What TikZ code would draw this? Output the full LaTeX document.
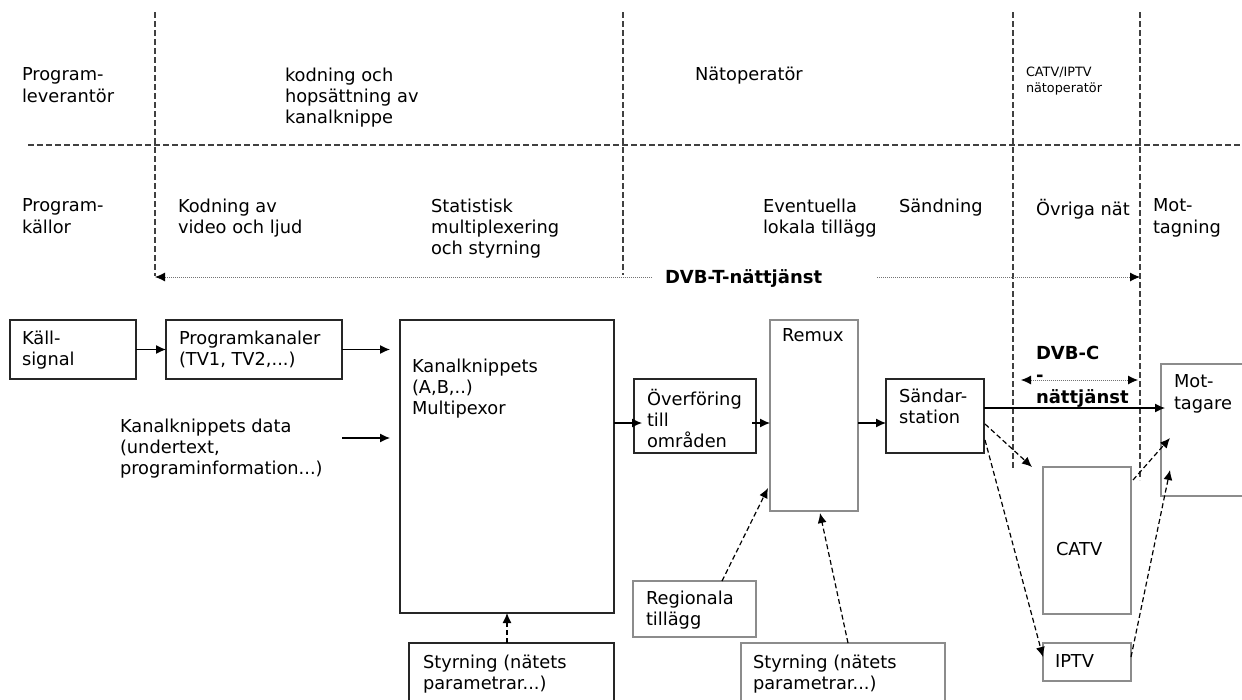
\documentclass[tikz,border=0pt]{standalone}
\usepackage{fontspec}
\setmainfont{DejaVu Sans}
\usetikzlibrary{arrows.meta,calc}
\tikzset{blt/.tip={Latex[length=10pt,width=9pt,color=black]}}
\begin{document}
\begin{tikzpicture}[x=1pt,y=-1pt,
  every node/.style={inner sep=0pt, outer sep=0pt},
  txt/.style={anchor=north west, align=left, font=\fontsize{17.8}{21.2}\selectfont},
  stxt/.style={anchor=north west, align=left, font=\fontsize{12.8}{16}\selectfont},
  btxt/.style={anchor=north west, align=left, font=\fontsize{18}{22}\selectfont\bfseries},
  box/.style={draw=black!85, line width=1.3pt, anchor=north west},
  gbox/.style={draw=black!45, line width=1.3pt, anchor=north west},
  arr/.style={-{blt}, line width=1.2pt},
  darr/.style={arr, dash pattern=on 5pt off 3pt},
  sep/.style={line width=1.1pt, draw=black!75, dash pattern=on 6pt off 3pt},
  dotl/.style={line width=0.8pt, draw=black!55, dash pattern=on 1pt off 1pt}
]
\useasboundingbox (0,0) rectangle (1242,699);

% separators
\draw[sep] (28,145) -- (1242,145);
\draw[sep] (155,12) -- (155,276);
\draw[sep] (623,12) -- (623,275);
\draw[sep] (1013,12) -- (1013,468);
\draw[sep] (1140,12) -- (1140,480);

% header texts
\node[txt] (h1) at (22,68) {Program-\\leverantör};
\node[txt] (h2) at (285,68) {kodning och\\hopsättning av\\kanalknippe};
\node[txt] (h3) at (695,67) {Nätoperatör};
\node[stxt] (h4) at (1026,67) {CATV/IPTV\\nätoperatör};
\node[txt] (s1) at (22,199) {Program-\\källor};
\node[txt] (s2) at (178,199) {Kodning av\\video och ljud};
\node[txt] (s3) at (431,199) {Statistisk\\multiplexering\\och styrning};
\node[txt] (s4) at (763,199) {Eventuella\\lokala tillägg};
\node[txt] (s5) at (899,199) {Sändning};
\node[txt] (s6) at (1036,199) {Övriga nät};
\node[txt] (s7) at (1153,199) {Mot-\\tagning};

% DVB-T
\node[btxt] (dvbt) at (665,270) {DVB-T-nättjänst};
\coordinate (tl) at (155,277);
\coordinate (tr) at (1140,277);
\draw[dotl, -{blt}] (652,277) -- (tl);
\draw[dotl, -{blt}] (877,277) -- (tr);

% boxes
\node[box, minimum width=126pt, minimum height=59pt] (kall) at (10,320) {};
\node[txt] at (22,331) {Käll-\\signal};
\node[box, minimum width=176pt, minimum height=59pt] (prog) at (166,320) {};
\node[txt] at (179,331) {Programkanaler\\(TV1, TV2,...)};
\node[box, minimum width=214pt, minimum height=293pt] (mux) at (400,320) {};
\node[txt] at (412,359) {Kanalknippets\\(A,B,..)\\Multipexor};
\node[txt] (data) at (120,419) {Kanalknippets data\\(undertext,\\programinformation...)};
\node[box, minimum width=205pt, minimum height=62pt] (styr1) at (409,643) {};
\node[txt] at (423,655) {Styrning (nätets\\parametrar...)};
\node[box, minimum width=122pt, minimum height=74pt] (over) at (634,379) {};
\node[txt] at (647,389) {Överföring\\till\\områden};
\node[gbox, minimum width=88pt, minimum height=191pt] (remux) at (770,320) {};
\node[txt] at (782,329) {Remux};
\node[gbox, minimum width=123pt, minimum height=56pt] (reg) at (633,581) {};
\node[txt] at (646,591) {Regionala\\tillägg};
\node[gbox, minimum width=204pt, minimum height=62pt] (styr2) at (741,643) {};
\node[txt] at (753,655) {Styrning (nätets\\parametrar...)};
\node[box, minimum width=98pt, minimum height=74pt] (sand) at (886,379) {};
\node[txt] at (899,389) {Sändar-\\station};
\node[gbox, minimum width=90pt, minimum height=132pt] (mott) at (1161,364) {};
\node[txt] at (1174,375) {Mot-\\tagare};
\node[gbox, minimum width=88pt, minimum height=147pt] (catv) at (1043,467) {};
\node[txt] at (1056,542) {CATV};
\node[gbox, minimum width=88pt, minimum height=38pt] (iptv) at (1043,643) {};
\node[txt] at (1055,655) {IPTV};

% DVB-C
\node[btxt] (dvbc) at (1036,346) {DVB-C\\-\\nättjänst};
\coordinate (cl) at (1021,380);
\coordinate (cr) at (1138,380);
\draw[dotl, {blt}-{blt}] (cl) -- (cr);

% connectors
\draw[arr] (kall.east) -- (prog.west);
\draw[arr, shorten >=10pt] (prog.east) -- (prog.east -| mux.west);
\coordinate (d1) at (342,438);
\draw[arr, shorten >=10pt] (d1) -- (d1 -| mux.west);
\draw[arr, shorten >=-8pt] ([yshift=-7pt]over.west -| mux.east) -- ([yshift=-7pt]over.west);
\draw[arr] ([yshift=-7pt,xshift=-4pt]over.east) -- ([yshift=-7pt]over.east -| remux.west);
\draw[arr] ([yshift=-7pt]sand.west -| remux.east) -- ([yshift=-7pt]sand.west);
\draw[darr] (mux.south |- styr1.north) -- (mux.south);
\draw[darr] ($(reg.north west)+(89,0)$) -- ($(remux.south west)+(-2,-23)$);
\draw[darr] ($(styr2.north west)+(107,0)$) -- ($(remux.south)+(6,2)$);
\draw[arr] ([yshift=8pt]sand.east) -- ([yshift=8pt]sand.east -| mott.west) -- ++(4,0);
\draw[darr] ([yshift=-8pt,xshift=1pt]sand.east) -- ($(catv.north west)+(-11,0)$);
\draw[darr] ([yshift=-24pt,xshift=1pt]sand.east) -- ($(iptv.west)+(0,-5)$);
\draw[darr] ($(catv.north east)+(2,13)$) -- ($(mott.north west)+(9,74)$);
\draw[darr] ($(iptv.east)+(0,-5)$) -- ($(mott.north west)+(9,106)$);
\end{tikzpicture}
\end{document}
